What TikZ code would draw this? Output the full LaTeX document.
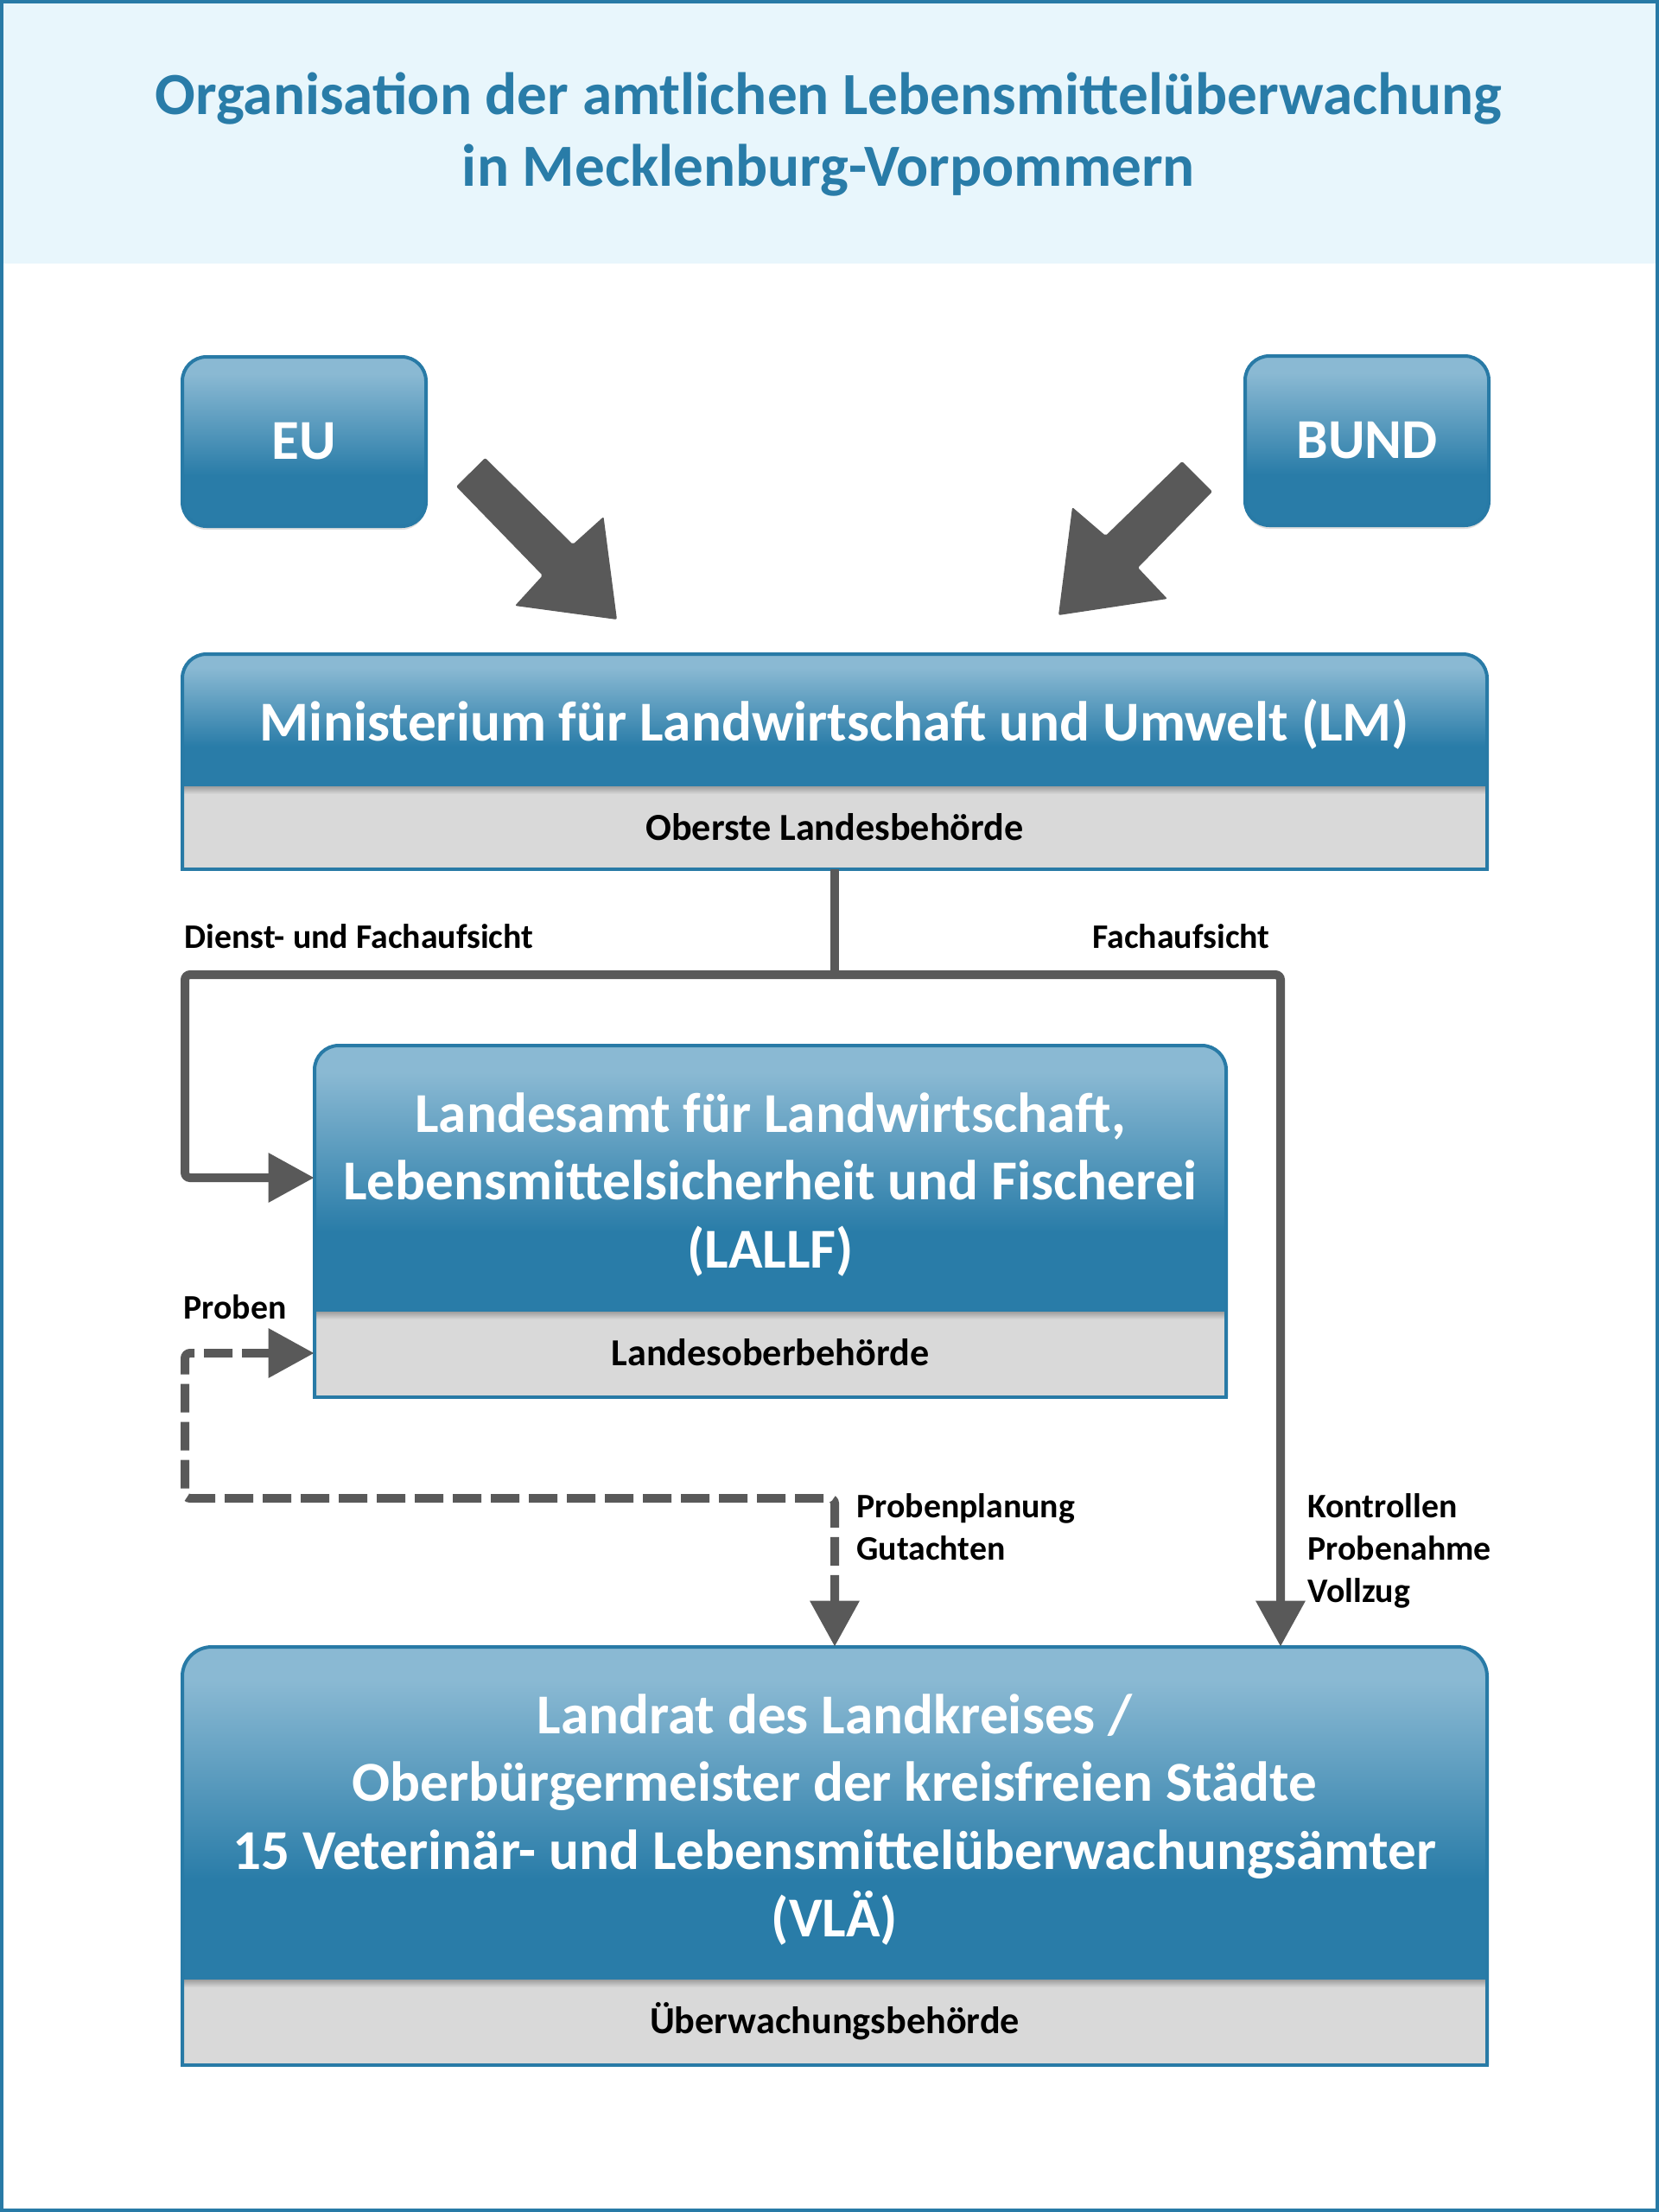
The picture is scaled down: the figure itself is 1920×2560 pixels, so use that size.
\documentclass[tikz,border=0pt]{standalone}
\usepackage{fontspec}
\setmainfont{Carlito}
\usetikzlibrary{arrows.meta,fit,shadows}
\definecolor{bdark}{RGB}{41,124,168}
\definecolor{blight}{RGB}{138,185,211}
\definecolor{bord}{RGB}{40,122,166}
\definecolor{greyfill}{RGB}{217,217,217}
\definecolor{agrey}{RGB}{89,89,89}
\definecolor{band}{RGB}{232,246,252}
\pgfdeclareverticalshading{blueshade}{100bp}{color(0bp)=(bdark); color(40bp)=(bdark); color(70bp)=(blight); color(100bp)=(blight)}
\newcommand\multiline[2]{\begin{tabular}[t]{@{}#1@{}}#2\end{tabular}}
\newcommand\bigbox[7]{%
  \coordinate (#1-nw) at (#2,#3);
  \coordinate (#1-se) at (#4,#6);
  \node[fit=(#1-nw)(#1-se), inner sep=0pt] (#1) {};
  \begin{scope}
    \clip[rounded corners=#7] (#2,#3) rectangle (#4,#6+80);
    \shade[shading=blueshade] (#2,#3) rectangle (#4,#5);
    \fill[greyfill] (#2,#5) rectangle (#4,#6);
    \shade[top color=black!38, bottom color=greyfill] (#2,#5) rectangle (#4,#5+9);
  \end{scope}
  \draw[boxborder, rounded corners=#7] (#2,#6) -- (#2,#3) -- (#4,#3) -- (#4,#6);
  \draw[boxborder, line cap=rect] (#2,#6) -- (#4,#6);
}
\tikzset{
  >={Triangle[length=26.5pt,width=27.5pt]},
  conn/.style={draw=agrey, line width=5pt, rounded corners=3pt},
  dconn/.style={conn, dash pattern=on 16.5pt off 5.5pt},
  boxborder/.style={draw=bord, line width=2pt},
  smallbox/.style={rectangle, rounded corners=14pt, draw=bord, line width=2pt,
    shade, shading=blueshade, minimum width=141pt, minimum height=98pt,
    text=white, font=\fontsize{32.6}{38}\selectfont\bfseries,
    drop shadow={opacity=0.25, shadow xshift=0pt, shadow yshift=-2pt}},
  boxtext/.style={anchor=base, text=white, inner sep=0pt,
    font=\fontsize{32.6}{39.25}\selectfont\bfseries},
  subtext/.style={anchor=base, text=black, inner sep=0pt,
    font=\fontsize{22.1}{26}\selectfont\bfseries},
  lbl/.style={anchor=base west, inner sep=0pt, text=black,
    font=\fontsize{19.9}{24.5}\selectfont\bfseries},
  titletext/.style={anchor=base, text=bdark, inner sep=0pt,
    font=\fontsize{34.6}{41.5}\selectfont\bfseries},
  blockarrow/.style={fill=agrey, rounded corners=1pt},
}
\begin{document}
\begin{tikzpicture}[x=0.5pt, y=-0.5pt]
  \useasboundingbox (0,0) rectangle (1920,2560);
  % background and title band
  \fill[white] (0,0) rectangle (1920,2560);
  \fill[band] (0,0) rectangle (1920,305);
  \draw[bord, line width=2pt] (2,2) rectangle (1918,2558);
  \node[titletext] (title) at (959,132)
    {\multiline{c}{Organisation der amtlichen Lebensmittelüberwachung\\in Mecklenburg-Vorpommern}};

  % EU and BUND
  \node[smallbox] (eu) at (352,511) {EU};
  \node[smallbox] (bund) at (1582,510) {BUND};

  % block arrows
  \fill[blockarrow] (528,563) -- (561.5,530) -- (663,630) -- (698.5,598)
    -- (714,717) -- (596,701) -- (628,666) -- cycle;
  \fill[blockarrow] (1403,569) -- (1368,534) -- (1279.5,620) -- (1241,587)
    -- (1225,712) -- (1351,693) -- (1317,657) -- cycle;

  % big boxes
  \bigbox{lm}{211}{757}{1721}{910}{1006}{14pt}
  \node[boxtext] (lmt) at (966,857) {Ministerium für Landwirtschaft und Umwelt (LM)};
  \node[subtext] (lms) at (966,972) {Oberste Landesbehörde};

  \bigbox{lallf}{364}{1210}{1419}{1518}{1617}{14pt}
  \node[boxtext] (lallft) at (891.5,1310)
    {\multiline{c}{Landesamt für Landwirtschaft,\\Lebensmittelsicherheit und Fischerei\\(LALLF)}};
  \node[subtext] (lallfs) at (891.5,1580) {Landesoberbehörde};

  \bigbox{vla}{211}{1906}{1721}{2291}{2390}{17pt}
  \node[boxtext] (vlat) at (966,2006)
    {\multiline{c}{Landrat des Landkreises /\\Oberbürgermeister der kreisfreien Städte\\15 Veterinär- und Lebensmittelüberwachungsämter\\(VLÄ)}};
  \node[subtext] (vlas) at (966,2353) {Überwachungsbehörde};

  % connectors
  \coordinate (j) at (966,1128);
  \coordinate (jl) at (214,1128);
  \coordinate (jl2) at (214,1363);
  \coordinate (jr) at (1482,1128);
  \coordinate (d1) at (214,1566);
  \coordinate (d2) at (214,1734);
  \draw[conn] (lm.south) -- (j);
  \draw[conn, ->] (j) -- (jl) -- (jl2) -- (jl2 -| lallf.west);
  \draw[conn, ->] (j) -- (jr) -- (jr |- vla.north);
  \draw[dconn, <->] (d1 -| lallf.west) -- (d1) -- (d2) -- (d2 -| vla.north) -- (vla.north);

  % labels
  \node[lbl] (l1) at (213,1097) {Dienst- und Fachaufsicht};
  \node[lbl] (l2) at (1264,1097) {Fachaufsicht};
  \node[lbl] (l3) at (212,1526) {Proben};
  \node[lbl] (l4) at (991,1756) {\multiline{l}{Probenplanung\\Gutachten}};
  \node[lbl] (l5) at (1513,1756) {\multiline{l}{Kontrollen\\Probenahme\\Vollzug}};
\end{tikzpicture}
\end{document}
